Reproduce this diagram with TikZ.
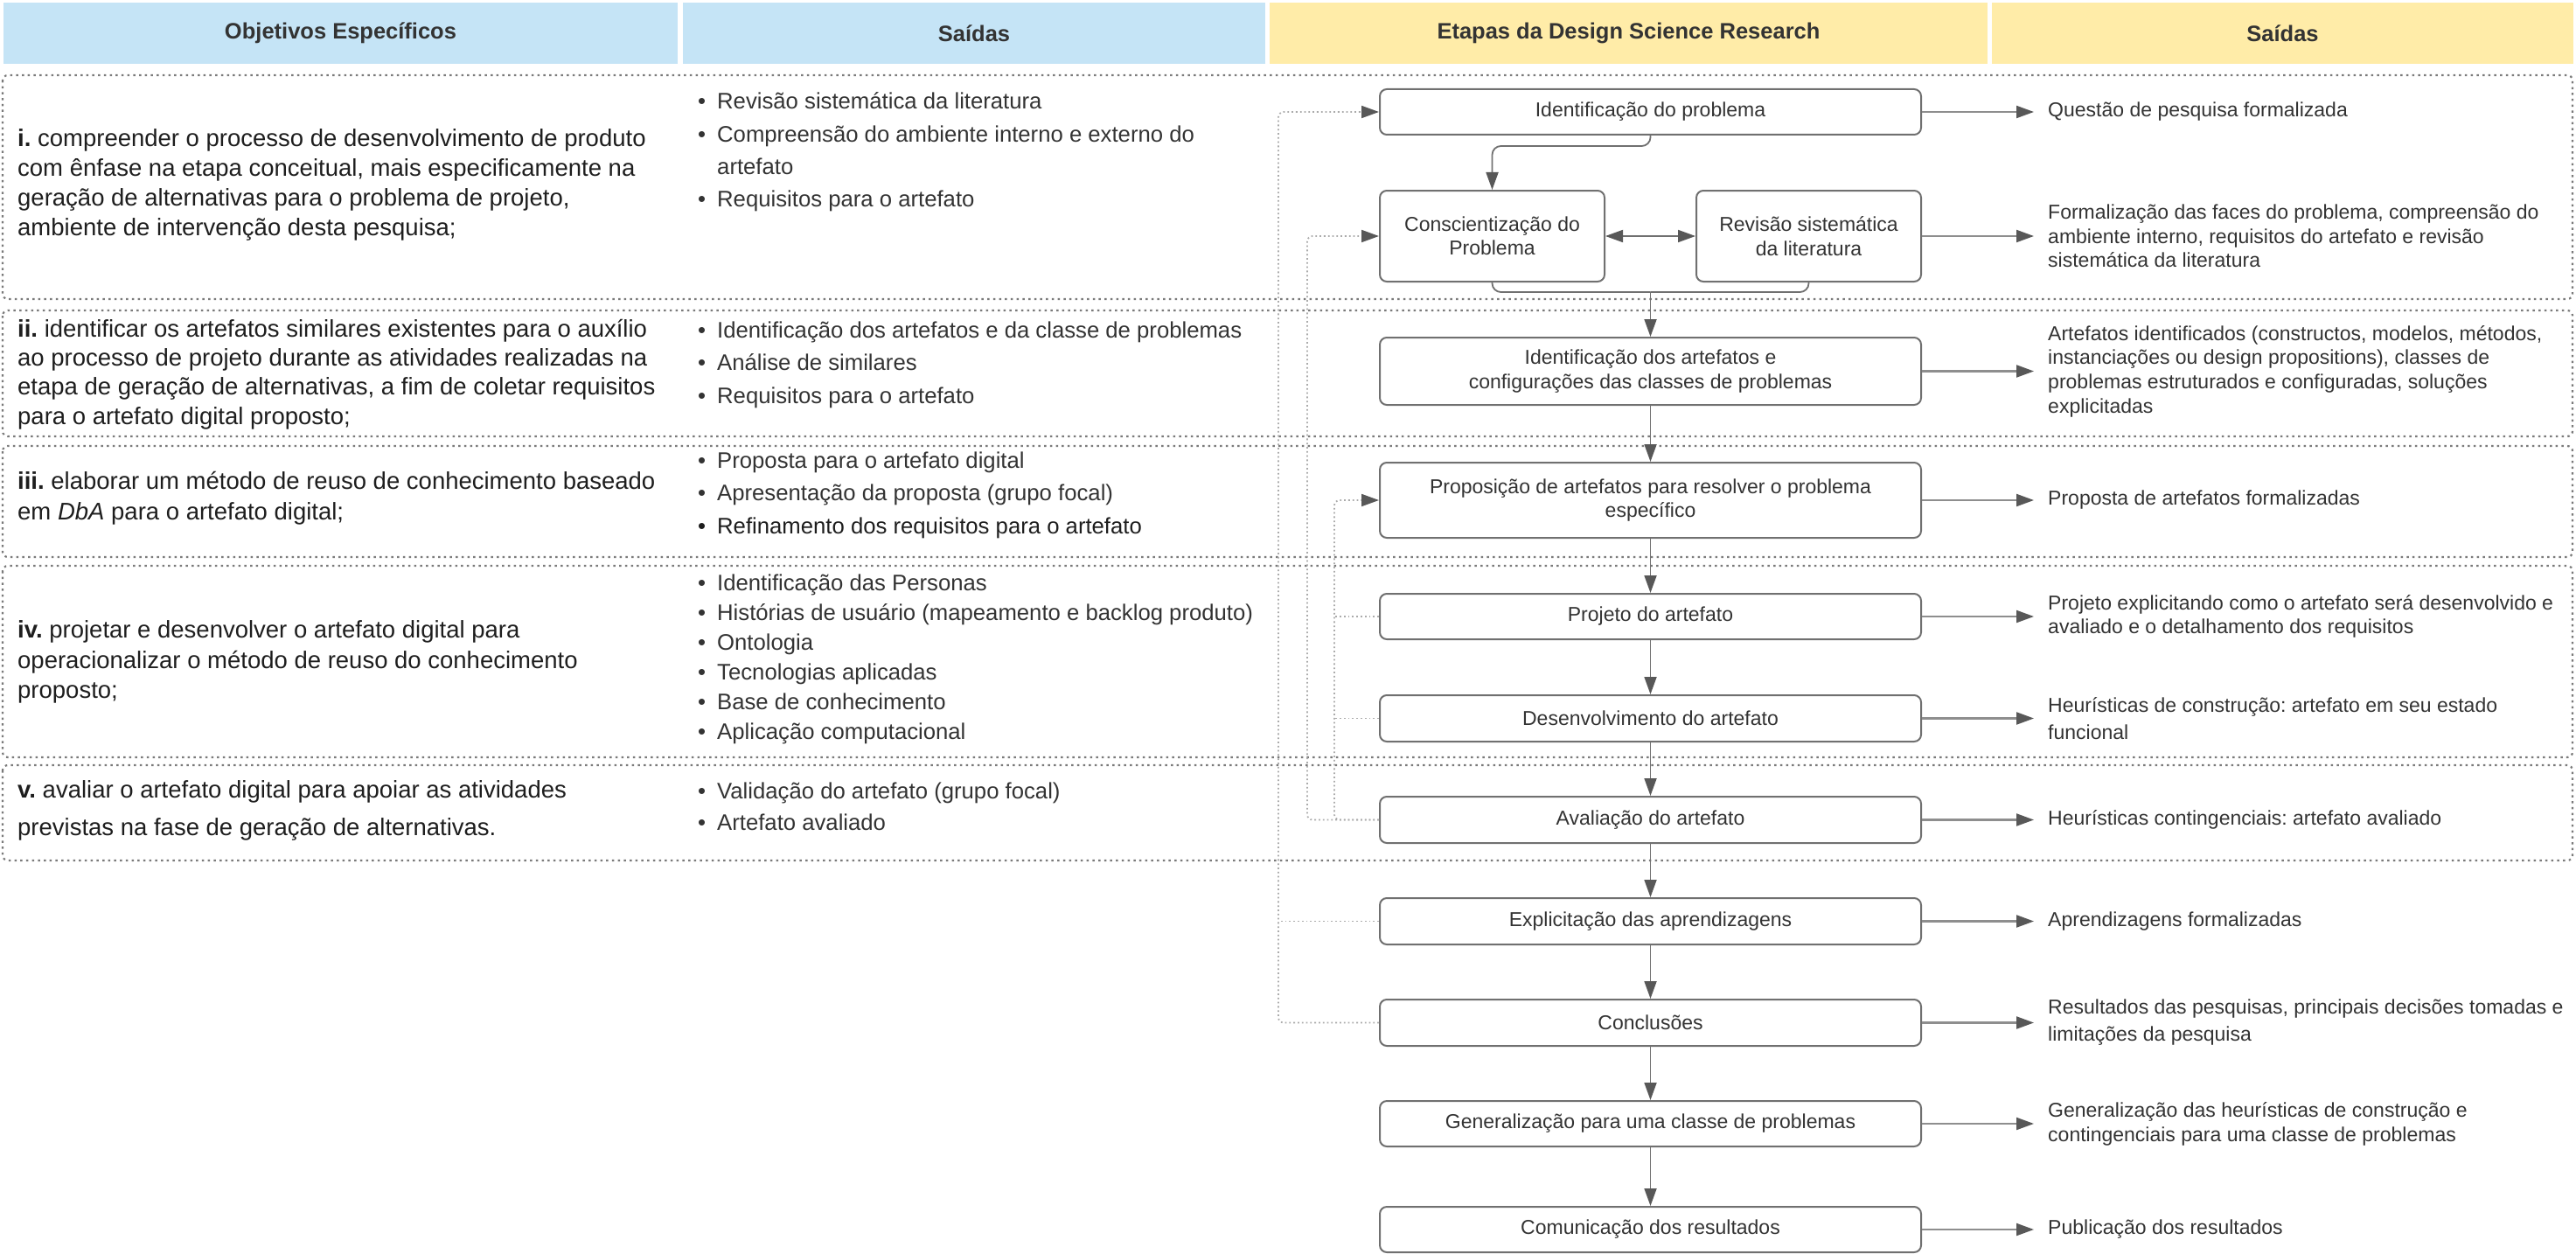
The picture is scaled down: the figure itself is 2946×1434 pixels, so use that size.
\documentclass[tikz,border=0pt]{standalone}
\usepackage{fontspec}
\setmainfont{Liberation Sans}
\usetikzlibrary{arrows.meta}

\definecolor{hdrblue}{HTML}{C5E4F6}
\definecolor{hdryellow}{HTML}{FFECA8}
\definecolor{boxline}{HTML}{707070}
\definecolor{tipgray}{HTML}{585858}
\definecolor{rowline}{HTML}{7A7A7A}
\definecolor{fbgray}{HTML}{ABABAB}
\definecolor{outgray}{HTML}{8E8E8E}
\definecolor{txt}{HTML}{333333}
\definecolor{objtext}{HTML}{1E1E1E}

% bullet item and continuation indent for the output lists
\newcommand\bitem{\makebox[22pt][l]{•}}
\newcommand\bindent{\hspace*{22pt}}

\begin{document}
\frenchspacing
\begin{tikzpicture}[x=1pt,y=-1pt,
  hdr/.style={minimum height=70pt, inner sep=0pt, text=txt,
    font=\fontsize{25.5}{30}\selectfont\bfseries},
  rowbox/.style={draw=rowline, line width=2.2pt, dash pattern=on 2.5pt off 4.2pt,
    rounded corners=6pt},
  objtxt/.style={anchor=west, align=left, inner sep=0pt, text=objtext},
  bultxt/.style={anchor=west, align=left, inner sep=0pt, text=txt},
  outtxt/.style={anchor=west, align=left, inner sep=0pt, text=txt},
  dsr/.style={draw=boxline, line width=2pt, rounded corners=8pt, fill=white,
    minimum width=619pt, align=center, inner sep=0pt, text=txt,
    font=\fontsize{23}{27.5}\selectfont},
  flow/.style={draw=boxline, line width=1.8pt, rounded corners=10pt},
  flowtip/.style={-{Triangle[length=20pt,width=14pt,color=tipgray]}},
  bothtips/.style={{Triangle[length=20pt,width=14pt,color=tipgray]}-{Triangle[length=20pt,width=14pt,color=tipgray]}},
  outarr/.style={draw=outgray, line width=2.2pt,
    -{Triangle[length=20pt,width=14pt,color=tipgray]}},
  fb/.style={draw=fbgray, line width=1.8pt, dash pattern=on 1.8pt off 3pt,
    rounded corners=6pt},
]
\useasboundingbox (0,0) rectangle (2946,1434);

% ---------- column headers ----------
\node[hdr, fill=hdrblue,   minimum width=771pt] (h1) at (389.5,38)  {Objetivos Específicos};
\node[hdr, fill=hdrblue,   minimum width=666pt] (h2) at (1114,38)   {Saídas};
\node[hdr, fill=hdryellow, minimum width=821pt] (h3) at (1862.5,38) {Etapas da Design Science Research};
\node[hdr, fill=hdryellow, minimum width=665pt] (h4) at (2610.5,38) {Saídas};

% ---------- row frames ----------
\draw[rowbox] (3,86)  rectangle (2942,342);
\draw[rowbox] (3,355) rectangle (2942,499);
\draw[rowbox] (3,510) rectangle (2942,637);
\draw[rowbox] (3,647) rectangle (2942,866);
\draw[rowbox] (3,875) rectangle (2942,984);

% ---------- specific objectives ----------
\node[objtxt, font=\fontsize{27.5}{34}\selectfont] (obj1) at (20,211)
  {\textbf{i.} compreender o processo de desenvolvimento de produto\\
   com ênfase na etapa conceitual, mais especificamente na\\
   geração de alternativas para o problema de projeto,\\
   ambiente de intervenção desta pesquisa;};
\node[objtxt, font=\fontsize{27.5}{33.3}\selectfont] (obj2) at (20,428)
  {\textbf{ii.} identificar os artefatos similares existentes para o auxílio\\
   ao processo de projeto durante as atividades realizadas na\\
   etapa de geração de alternativas, a fim de coletar requisitos\\
   para o artefato digital proposto;};
\node[objtxt, font=\fontsize{27.5}{35}\selectfont] (obj3) at (20,569.5)
  {\textbf{iii.} elaborar um método de reuso de conhecimento baseado\\
   em \textit{DbA} para o artefato digital;};
\node[objtxt, font=\fontsize{27.5}{34.5}\selectfont] (obj4) at (20,757)
  {\textbf{iv.} projetar e desenvolver o artefato digital para\\
   operacionalizar o método de reuso do conhecimento\\
   proposto;};
\node[objtxt, font=\fontsize{27.5}{43}\selectfont] (obj5) at (20,926.5)
  {\textbf{v.} avaliar o artefato digital para apoiar as atividades\\
   previstas na fase de geração de alternativas.};

% ---------- outputs of the objectives ----------
\node[bultxt, font=\fontsize{25.7}{37.3}\selectfont] (sa1) at (798,174)
  {\bitem Revisão sistemática da literatura\\
   \bitem Compreensão do ambiente interno e externo do\\
   \bindent artefato\\
   \bitem Requisitos para o artefato};
\node[bultxt, font=\fontsize{25.7}{37.5}\selectfont] (sa2) at (798,417)
  {\bitem Identificação dos artefatos e da classe de problemas\\
   \bitem Análise de similares\\
   \bitem Requisitos para o artefato};
\node[bultxt, font=\fontsize{25.7}{37.5}\selectfont] (sa3) at (798,566)
  {\bitem Proposta para o artefato digital\\
   \bitem Apresentação da proposta (grupo focal)\\
   \textcolor{objtext}{\bitem Refinamento dos requisitos para o artefato}};
\node[bultxt, font=\fontsize{25.7}{34}\selectfont] (sa4) at (798,754)
  {\bitem Identificação das Personas\\
   \bitem Histórias de usuário (mapeamento e backlog produto)\\
   \bitem Ontologia\\
   \bitem Tecnologias aplicadas\\
   \bitem Base de conhecimento\\
   \bitem Aplicação computacional};
\node[bultxt, font=\fontsize{25.7}{36}\selectfont] (sa5) at (798,922)
  {\bitem Validação do artefato (grupo focal)\\
   \bitem Artefato avaliado};

% ---------- Design Science Research stages ----------
\node[dsr, minimum height=52pt] (idp) at (1887.5,128) {Identificação do problema};
\node[dsr, minimum width=257pt, minimum height=104pt] (cons) at (1706.5,270)
  {Conscientização do\\Problema};
\node[dsr, minimum width=257pt, minimum height=104pt] (rev) at (2068.5,270)
  {Revisão sistemática\\da literatura};
\node[dsr, minimum height=77pt] (idart) at (1887.5,424.5)
  {Identificação dos artefatos e\\configurações das classes de problemas};
\node[dsr, minimum height=86pt] (prop) at (1887.5,572)
  {Proposição de artefatos para resolver o problema\\específico};
\node[dsr, minimum height=52pt] (proj)   at (1887.5,705)    {Projeto do artefato};
\node[dsr, minimum height=53pt] (desenv) at (1887.5,821.5)  {Desenvolvimento do artefato};
\node[dsr, minimum height=53pt] (aval)   at (1887.5,937.5)  {Avaliação do artefato};
\node[dsr, minimum height=53pt] (expl)   at (1887.5,1053.5) {Explicitação das aprendizagens};
\node[dsr, minimum height=53pt] (concl)  at (1887.5,1169.5) {Conclusões};
\node[dsr, minimum height=52pt] (gen)    at (1887.5,1285)   {Generalização para uma classe de problemas};
\node[dsr, minimum height=52pt] (com)    at (1887.5,1406)   {Comunicação dos resultados};

% ---------- main flow ----------
\draw[flow, flowtip] (idp.south) -- ++(0,12) -| (cons.north);
\draw[flow, bothtips] (cons.east) -- (rev.west);
\coordinate (mrg) at (1887.5,334);
\draw[flow] (cons.south) |- (mrg);
\draw[flow] (rev.south) |- (mrg);
\draw[flow, flowtip] (mrg) -- (idart.north);
\foreach \a/\b in {idart/prop, prop/proj, proj/desenv, desenv/aval,
                   aval/expl, expl/concl, concl/gen, gen/com}
  \draw[flow, flowtip] (\a.south) -- (\b.north);

% ---------- feedback loops ----------
\coordinate (la) at (1462,0);
\coordinate (lb) at (1495,0);
\coordinate (lc) at (1526,0);
\draw[fb] (expl.west) -- (expl.west -| la);
\draw[fb, flowtip] (concl.west) -| (la |- idp.west) -- (idp.west);
\draw[fb, flowtip] (aval.west) -| (lb |- cons.west) -- (cons.west);
\draw[fb, flowtip] (aval.west) -| (lc |- prop.west) -- (prop.west);
\draw[fb] (proj.west) -- (proj.west -| lc);
\draw[fb] (desenv.west) -- (desenv.west -| lc);

% ---------- stage outputs ----------
\coordinate (ox) at (2326,0);
\coordinate (tx) at (2342,0);
\foreach \s in {idp, rev, idart, prop, proj, desenv, aval, expl, concl, gen, com}
  \draw[outarr] (\s.east) -- (\s.east -| ox);

\node[outtxt, font=\fontsize{23}{27.5}\selectfont] (o1) at (idp.east -| tx)
  {Questão de pesquisa formalizada};
\node[outtxt, font=\fontsize{23}{27.5}\selectfont] (o2) at (rev.east -| tx)
  {Formalização das faces do problema, compreensão do\\
   ambiente interno, requisitos do artefato e revisão\\
   sistemática da literatura};
\node[outtxt, font=\fontsize{23}{27.7}\selectfont] (o3) at (idart.east -| tx)
  {Artefatos identificados (constructos, modelos, métodos,\\
   instanciações ou design propositions), classes de\\
   problemas estruturados e configuradas, soluções\\
   explicitadas};
\node[outtxt, font=\fontsize{23}{27.5}\selectfont] (o4) at (prop.east -| tx)
  {Proposta de artefatos formalizadas};
\node[outtxt, font=\fontsize{23}{26.5}\selectfont] (o5) at (proj.east -| tx)
  {Projeto explicitando como o artefato será desenvolvido e\\
   avaliado e o detalhamento dos requisitos};
\node[outtxt, font=\fontsize{23}{31}\selectfont] (o6) at (desenv.east -| tx)
  {Heurísticas de construção: artefato em seu estado\\
   funcional};
\node[outtxt, font=\fontsize{23}{27.5}\selectfont] (o7) at (aval.east -| tx)
  {Heurísticas contingenciais: artefato avaliado};
\node[outtxt, font=\fontsize{23}{27.5}\selectfont] (o8) at (expl.east -| tx)
  {Aprendizagens formalizadas};
\node[outtxt, font=\fontsize{23}{31}\selectfont] (o9) at (concl.east -| tx)
  {Resultados das pesquisas, principais decisões tomadas e\\
   limitações da pesquisa};
\node[outtxt, font=\fontsize{23}{28}\selectfont] (o10) at (gen.east -| tx)
  {Generalização das heurísticas de construção e\\
   contingenciais para uma classe de problemas};
\node[outtxt, font=\fontsize{23}{27.5}\selectfont] (o11) at (com.east -| tx)
  {Publicação dos resultados};
\end{tikzpicture}
\end{document}
